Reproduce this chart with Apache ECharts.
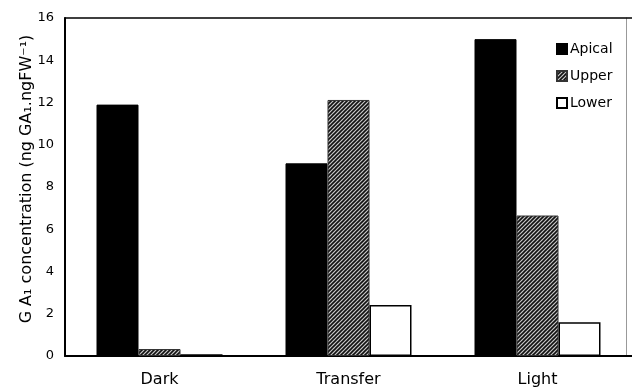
<!DOCTYPE html>
<html><head><meta charset="utf-8">
<script src="https://cdn.jsdelivr.net/npm/echarts@6/dist/echarts.min.js"></script>
<style>html,body{margin:0;padding:0;background:#fff}#c{width:632px;height:388px}</style>
</head><body><div id="c"></div>
<script>
const categories = ['Dark', 'Transfer', 'Light'];
const apical = [11.9, 9.12, 15.0];
const upper = [0.33, 12.12, 6.65];
const lower = [0.08, 2.42, 1.6];
const yTicks = {min: 0, max: 16, interval: 2};

function hatch() {
  const s = 4, cv = document.createElement('canvas');
  cv.width = s; cv.height = s;
  const g = cv.getContext('2d');
  g.fillStyle = '#c8c8c8'; g.fillRect(0, 0, s, s);
  g.strokeStyle = '#111'; g.lineWidth = 1.6;
  g.beginPath();
  g.moveTo(-1, s + 1); g.lineTo(s + 1, -1);
  g.moveTo(-1, 1); g.lineTo(1, -1);
  g.moveTo(s - 1, s + 1); g.lineTo(s + 1, s - 1);
  g.stroke();
  return {image: cv, repeat: 'repeat'};
}
const font = 'DejaVu Sans, Arial, sans-serif';
const chart = echarts.init(document.getElementById('c'), null, {renderer: 'canvas'});
chart.setOption({
  animation: false,
  backgroundColor: '#fff',
  textStyle: {fontFamily: font, color: '#000'},
  grid: {left: 65, top: 18, width: 570, height: 338},
  legend: {
    orient: 'vertical', left: 551, top: 37, itemWidth: 10, itemHeight: 10, itemGap: 13,
    icon: 'rect',
    textStyle: {fontSize: 14, color: '#000', fontFamily: font, padding: [0, 0, 0, -2]}
  },
  xAxis: [{
    type: 'category', data: categories,
    axisLine: {lineStyle: {color: '#000', width: 2}},
    axisTick: {show: false},
    axisLabel: {fontSize: 16, color: '#000', margin: 16, fontFamily: font}
  }, {
    type: 'category', position: 'top', data: categories,
    axisLine: {show: true, onZero: false, lineStyle: {color: '#000', width: 1.5}},
    axisTick: {show: false}, axisLabel: {show: false}
  }],
  yAxis: [{
    type: 'value', min: yTicks.min, max: yTicks.max, interval: yTicks.interval,
    name: 'G A\u2081 concentration (ng GA\u2081.ngFW\u207B\u00B9)',
    nameLocation: 'middle', nameGap: 30, nameMoveOverlap: false,
    nameTextStyle: {fontSize: 16, color: '#000', fontFamily: font, padding: [0, 0, 0, 16]},
    axisLine: {show: true, lineStyle: {color: '#000', width: 2}},
    axisTick: {show: false}, splitLine: {show: false},
    axisLabel: {fontSize: 13, color: '#000', margin: 11, fontFamily: font}
  }, {
    type: 'value', position: 'right', offset: -6, min: yTicks.min, max: yTicks.max,
    axisLine: {show: true, onZero: false, lineStyle: {color: '#999', width: 1}},
    axisTick: {show: false}, splitLine: {show: false}, axisLabel: {show: false}
  }],
  series: [
    {name: 'Apical', type: 'bar', data: apical, barWidth: 42, barGap: '0%',
     itemStyle: {color: '#000', borderColor: '#000', borderWidth: 1}},
    {name: 'Upper', type: 'bar', data: upper, barWidth: 42, barGap: '0%',
     itemStyle: {color: hatch(), borderColor: '#333', borderWidth: 1}},
    {name: 'Lower', type: 'bar', data: lower, barWidth: 42, barGap: '0%',
     itemStyle: {color: '#fff', borderColor: '#000', borderWidth: 1.5}}
  ]
});
</script></body></html>
